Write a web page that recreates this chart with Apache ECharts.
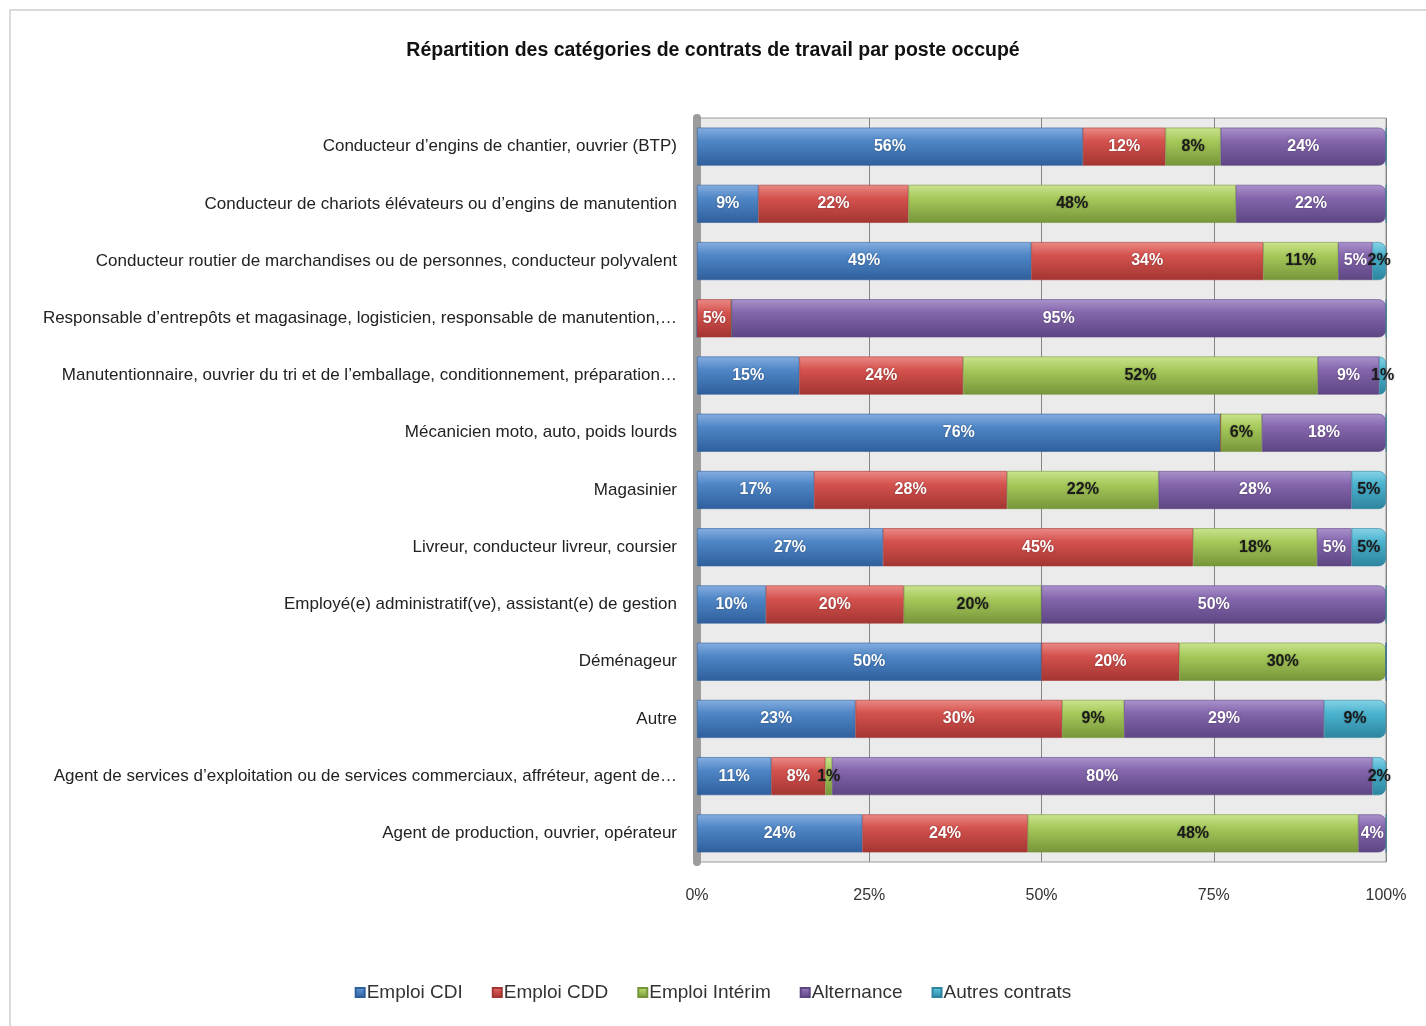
<!DOCTYPE html>
<html><head><meta charset="utf-8">
<script src="https://cdn.jsdelivr.net/npm/echarts@6/dist/echarts.min.js"></script>
<style>html,body{margin:0;padding:0;background:#fff}#c{width:1426px;height:1026px}</style>
</head><body><div id="c"></div>
<script>
const categories = [
  "Conducteur d’engins de chantier, ouvrier (BTP)",
  "Conducteur de chariots élévateurs ou d’engins de manutention",
  "Conducteur routier de marchandises ou de personnes, conducteur polyvalent",
  "Responsable d’entrepôts et magasinage, logisticien, responsable de manutention,…",
  "Manutentionnaire, ouvrier du tri et de l’emballage, conditionnement, préparation…",
  "Mécanicien moto, auto, poids lourds",
  "Magasinier",
  "Livreur, conducteur livreur, coursier",
  "Employé(e) administratif(ve), assistant(e) de gestion",
  "Déménageur",
  "Autre",
  "Agent de services d’exploitation ou de services commerciaux, affréteur, agent de…",
  "Agent de production, ouvrier, opérateur"
];
const seriesNames = ["Emploi CDI", "Emploi CDD", "Emploi Intérim", "Alternance", "Autres contrats"];
const cdi        = [56, 9, 49, 0, 15, 76, 17, 27, 10, 50, 23, 11, 24];
const cdd        = [12, 22, 34, 5, 24, 0, 28, 45, 20, 20, 30, 8, 24];
const interim    = [8, 48, 11, 0, 52, 6, 22, 18, 20, 30, 9, 1, 48];
const alternance = [24, 22, 5, 95, 9, 18, 28, 5, 50, 0, 29, 80, 4];
const autres     = [0, 0, 2, 0, 1, 0, 5, 5, 0, 0, 9, 2, 0];
const tickLabels = ["0%", "25%", "50%", "75%", "100%"];

const raw = [cdi, cdd, interim, alternance, autres];
const totals = categories.map((_, i) => raw.reduce((s, a) => s + a[i], 0));
const lastIdx = categories.map((_, i) => { let k = 0; raw.forEach((a, s) => { if (a[i] > 0) k = s; }); return k; });
const palette = [
  ["#86aee0", "#4f86c6", "#2f5f9c"],
  ["#ea8a86", "#d4524e", "#a33532"],
  ["#cbe38f", "#a6c95a", "#76953a"],
  ["#ab92cc", "#8466ac", "#5d4582"],
  ["#86d2e6", "#4bb3cf", "#2d849e"]
];
const labelColors = ["#ffffff", "#ffffff", "#1a1a1a", "#ffffff", "#1a1a1a"];
const font = "'Liberation Sans', Arial, sans-serif";

const series = raw.map((arr, s) => ({
  name: seriesNames[s],
  type: 'bar',
  stack: 'total',
  barWidth: 38,
  data: arr.map((v, i) => {
    const d = { value: v / totals[i] * 100, raw: v };
    if (lastIdx[i] === s) d.itemStyle = { borderRadius: [0, 7, 7, 0] };
    return d;
  }),
  itemStyle: {
    color: new echarts.graphic.LinearGradient(0, 0, 0, 1, [
      { offset: 0, color: palette[s][0] },
      { offset: 0.35, color: palette[s][1] },
      { offset: 1, color: palette[s][2] }
    ]),
    borderColor: palette[s][2],
    borderWidth: 0.6
  },
  label: {
    show: true,
    position: 'inside',
    fontFamily: font,
    fontWeight: 'bold',
    fontSize: 16,
    color: labelColors[s],
    textShadowColor: 'rgba(0,0,0,0.35)',
    textShadowBlur: 2,
    formatter: p => p.data.raw > 0 ? p.data.raw + '%' : ''
  },
  emphasis: { disabled: true }
}));

const chart = echarts.init(document.getElementById('c'));
chart.setOption({
  animation: false,
  backgroundColor: '#ffffff',
  graphic: [{
    type: 'rect', shape: { x: 10, y: 10, width: 1440, height: 1040 },
    style: { fill: 'none', stroke: '#cfcfcf', lineWidth: 1.5 }, z: -10
  }],
  title: {
    text: 'Répartition des catégories de contrats de travail par poste occupé',
    left: 'center', top: 36,
    textStyle: { fontFamily: font, fontWeight: 'bold', fontSize: 19.5, color: '#111' }
  },
  legend: {
    bottom: 19, left: 'center',
    icon: 'rect', itemWidth: 9, itemHeight: 9, itemGap: 29,
    textStyle: { fontFamily: font, fontSize: 19, color: '#333', padding: [0, 0, 0, -3] },
    data: seriesNames
  },
  grid: {
    left: 697, right: 40, top: 118, bottom: 164,
    show: true, backgroundColor: '#ebebeb', borderColor: '#9a9a9a', borderWidth: 1
  },
  xAxis: {
    type: 'value', min: 0, max: 100, interval: 25,
    axisLine: { show: false }, axisTick: { show: false },
    splitLine: { show: true, lineStyle: { color: '#858585', width: 1 } },
    axisLabel: {
      margin: 26, fontFamily: font, fontSize: 16, color: '#333',
      formatter: v => tickLabels[Math.round(v / 25)]
    }
  },
  yAxis: {
    type: 'category', inverse: true, data: categories,
    axisLine: { show: true, lineStyle: { color: '#9c9c9c', width: 8 } },
    axisTick: { show: false },
    axisLabel: { margin: 20, fontFamily: font, fontSize: 17, color: '#222' }
  },
  series: series
});
</script></body></html>
